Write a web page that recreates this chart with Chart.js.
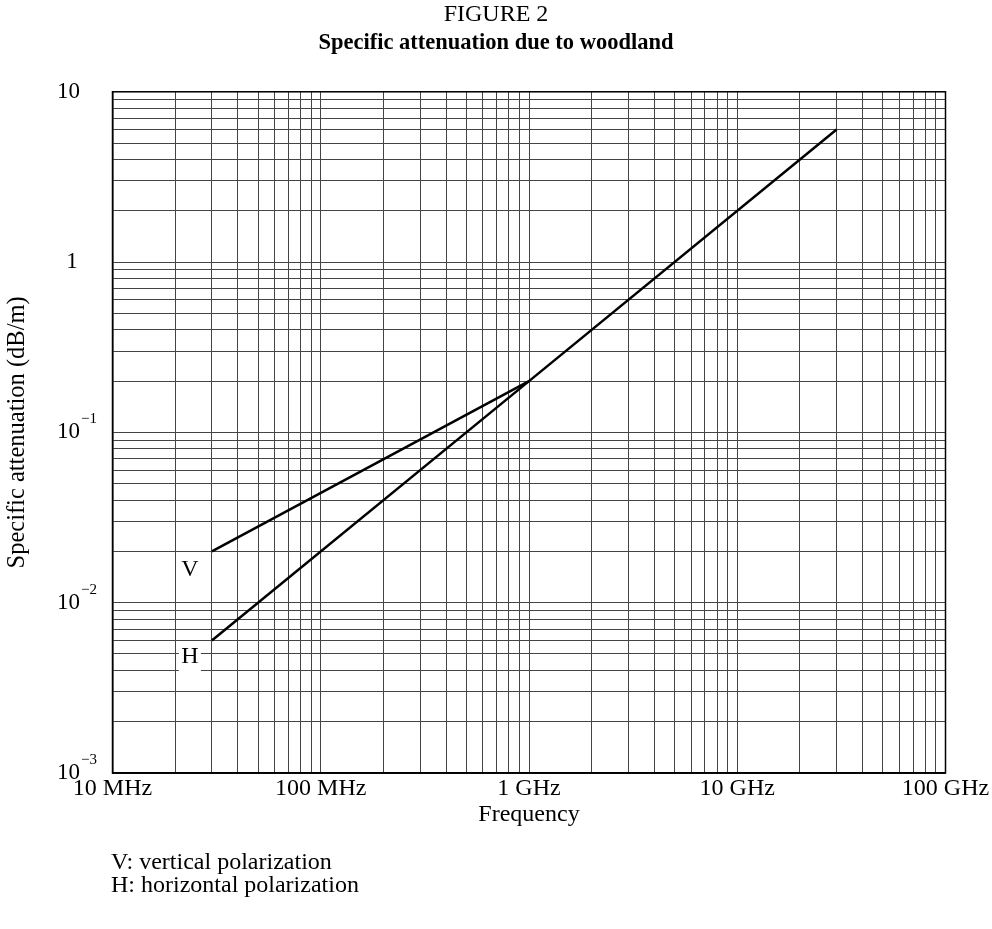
<!DOCTYPE html>
<html><head><meta charset="utf-8">
<script src="https://cdn.jsdelivr.net/npm/chart.js@4.4.0/dist/chart.umd.min.js"></script>
<style>html,body{margin:0;padding:0;background:#fff;overflow:hidden;}</style>
</head><body>
<canvas id="c" width="992" height="929"></canvas>
<script>
// ---- data (frequency in MHz, specific attenuation in dB/m) ----
const freqV = [30, 1000];
const attenV = [0.02, 0.2];
const freqH = [30, 1000, 30000];
const attenH = [0.006, 0.2, 6];
// ---- tick labels ----
const xDecades = [10, 100, 1000, 10000, 100000];
const xDecadeLabels = ['10 MHz', '100 MHz', '1 GHz', '10 GHz', '100 GHz'];
const yDecades = [0.001, 0.01, 0.1, 1, 10];
const yDecadeBase = ['10', '10', '10', '1', '10'];
const yDecadeExp = ['−3', '−2', '−1', '', ''];
const notes = ['V: vertical polarization', 'H: horizontal polarization'];
const curveLabels = ['V', 'H'];

const FONT = '"Liberation Serif", "Times New Roman", serif';

function logGrid(decades) {
  const out = [];
  for (let i = 0; i < decades.length; i++) {
    out.push(decades[i]);
    if (i < decades.length - 1) {
      for (let m = 2; m <= 9; m++) out.push(+(decades[i] * m).toPrecision(6));
    }
  }
  return out.map(v => ({ value: v }));
}

const decor = {
  id: 'decor',
  afterDatasetsDraw(chart) {
    const { ctx, chartArea: a, scales: { x, y } } = chart;
    ctx.save();
    // frame
    ctx.strokeStyle = '#000';
    ctx.lineWidth = 1.5;
    ctx.strokeRect(a.left, a.top, a.right - a.left, a.bottom - a.top);
    // curve labels
    ctx.font = '24px ' + FONT;
    ctx.textAlign = 'center';
    ctx.textBaseline = 'middle';
    const x0 = x.getPixelForValue(freqV[0]) - 22;
    const vy = y.getPixelForValue(attenV[0]) + 18;
    const hy = y.getPixelForValue(attenH[0]) + 16;
    ctx.fillStyle = '#fff';
    ctx.fillRect(x0 - 11, hy - 13, 22, 29);
    ctx.fillStyle = '#000';
    ctx.fillText(curveLabels[0], x0, vy);
    ctx.fillText(curveLabels[1], x0, hy);
    ctx.restore();
  },
  afterDraw(chart) {
    const { ctx, scales: { y } } = chart;
    ctx.save();
    ctx.fillStyle = '#000';
    ctx.textBaseline = 'middle';
    yDecades.forEach((v, i) => {
      const py = y.getPixelForValue(v);
      ctx.font = '23px ' + FONT;
      if (yDecadeBase[i] === '1') {
        ctx.textAlign = 'center';
        ctx.fillText('1', 72, py);
        return;
      }
      ctx.textAlign = 'left';
      ctx.fillText(yDecadeBase[i], 57, py);
      const w = ctx.measureText(yDecadeBase[i]).width;
      if (yDecadeExp[i]) {
        ctx.font = '15px ' + FONT;
        ctx.fillText(yDecadeExp[i], 57 + w + 1, py - 13);
      }
    });
    ctx.font = '24px ' + FONT;
    ctx.textAlign = 'left';
    ctx.fillText(notes[0], 111, 863);
    ctx.fillText(notes[1], 111, 886);
    ctx.restore();
  }
};

new Chart(document.getElementById('c'), {
  type: 'line',
  data: {
    datasets: [
      { label: 'V', data: freqV.map((f, i) => ({ x: f, y: attenV[i] })) },
      { label: 'H', data: freqH.map((f, i) => ({ x: f, y: attenH[i] })) }
    ]
  },
  options: {
    responsive: false,
    animation: false,
    devicePixelRatio: 1,
    layout: { padding: { left: 0, right: 0, top: 0, bottom: 100 } },
    elements: {
      line: { borderColor: '#000', borderWidth: 2.5, tension: 0, fill: false },
      point: { radius: 0, hoverRadius: 0 }
    },
    plugins: {
      legend: { display: false },
      tooltip: { enabled: false },
      title: {
        display: true, text: 'FIGURE 2', color: '#000',
        font: { family: FONT, size: 24, weight: 'normal' }, padding: { top: 0, bottom: 1 }
      },
      subtitle: {
        display: true, text: 'Specific attenuation due to woodland', color: '#000',
        font: { family: FONT, size: 22.5, weight: 'bold' }, padding: { top: 0, bottom: 35 }
      }
    },
    scales: {
      x: {
        type: 'logarithmic', min: 10, max: 100000,
        afterBuildTicks: s => { s.ticks = logGrid(xDecades); },
        afterFit: s => { s.height = 56; },
        grid: { color: '#444', lineWidth: 1, drawTicks: false },
        border: { display: true, color: '#000', width: 1.5 },
        ticks: {
          autoSkip: false, maxRotation: 0, padding: 1, color: '#000',
          font: { family: FONT, size: 24 },
          callback: function (v) {
            const i = xDecades.findIndex(d => Math.abs(d - v) / d < 1e-6);
            return i >= 0 ? xDecadeLabels[i] : '';
          }
        },
        title: {
          display: true, text: 'Frequency', color: '#000',
          font: { family: FONT, size: 24 }, padding: { top: 0, bottom: 0 }
        }
      },
      y: {
        type: 'logarithmic', min: 0.001, max: 10,
        afterBuildTicks: s => { s.ticks = logGrid(yDecades); },
        afterFit: s => { s.width = 112.5; },
        grid: { color: '#444', lineWidth: 1, drawTicks: false },
        border: { display: true, color: '#000', width: 1.5 },
        ticks: { display: false },
        title: {
          display: true, text: 'Specific attenuation (dB/m)', color: '#000',
          font: { family: FONT, size: 24.5 }, padding: { top: 3, bottom: 0 }
        }
      },
      yRightMargin: {
        type: 'linear', position: 'right', display: true,
        afterFit: s => { s.width = 46.5; },
        grid: { display: false, drawOnChartArea: false },
        border: { display: false },
        ticks: { display: false },
        title: { display: false }
      }
    }
  },
  plugins: [decor]
});
</script>
</body></html>
